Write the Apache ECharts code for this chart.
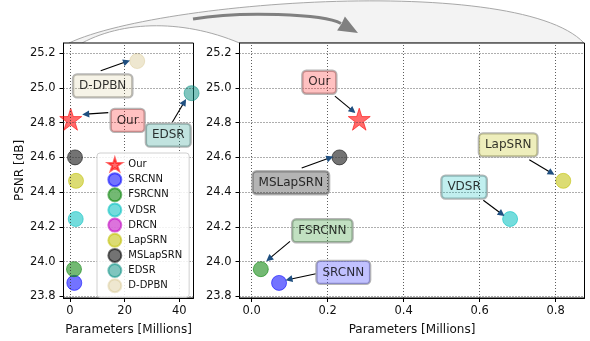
<!DOCTYPE html>
<html>
<head>
<meta charset="utf-8">
<script src="https://cdn.jsdelivr.net/npm/echarts@6/dist/echarts.min.js"></script>
<style>
  html, body { margin: 0; padding: 0; background: #fff; }
  #chart { width: 590px; height: 341px; }
</style>
</head>
<body>
<div id="chart"></div>
<script>
// models, in legend order
var models = ['Our', 'SRCNN', 'FSRCNN', 'VDSR', 'DRCN', 'LapSRN', 'MSLapSRN', 'EDSR', 'D-DPBN']
var psnr = [24.82, 23.877, 23.956, 24.245, null, 24.465, 24.60, 24.97, 25.155]
// parameters [millions] as placed in the full view (left) and the zoomed view (right)
var paramsFull = [0.26, 1.57, 1.46, 2.09, null, 2.2, 1.83, 44.5, 24.6]
var paramsZoom = [0.283, 0.072, 0.024, 0.680, null, 0.820, 0.231, null, null]

var yTicks = [23.8, 24.0, 24.2, 24.4, 24.6, 24.8, 25.0, 25.2]
var xTicksFull = [0, 20, 40]
var xTicksZoom = [0, 0.2, 0.4, 0.6, 0.8]

// annotation: name, text box centre, arrow start, arrow end (data coords)
var notesFull = [
  ['D-DPBN', [11.97, 25.012], [11.24, 25.099], [20.75, 25.152]],
  ['Our', [21.1, 24.813], [14.02, 24.858], [5.75, 24.849]],
  ['EDSR', [35.97, 24.728], [37.44, 24.802], [41.83, 24.919]]
]
var notesZoom = [
  ['Our', [0.178, 25.033], [0.219, 24.953], [0.266, 24.868]],
  ['MSLapSRN', [0.103, 24.454], [0.1316, 24.539], [0.206, 24.598]],
  ['LapSRN', [0.675, 24.672], [0.7305, 24.586], [0.789, 24.51]],
  ['VDSR', [0.559, 24.429], [0.6095, 24.353], [0.658, 24.274]],
  ['FSRCNN', [0.186, 24.177], [0.1008, 24.116], [0.0455, 24.015]],
  ['SRCNN', [0.241, 23.9375], [0.169, 23.93], [0.098, 23.897]]
]

var FONT = 'DejaVu Sans'
var STAR = 'path://M50,0 L61.2,34.5 L97.6,34.5 L68.2,55.9 L79.4,90.5 L50,69.1 L20.6,90.5 L31.8,55.9 L2.4,34.5 L38.8,34.5 Z'

var markerColor = {
  'Our': 'rgba(255,0,0,0.58)',
  'SRCNN': 'rgba(0,0,255,0.55)',
  'FSRCNN': 'rgba(0,128,0,0.55)',
  'VDSR': 'rgba(0,191,191,0.55)',
  'DRCN': 'rgba(191,0,191,0.55)',
  'LapSRN': 'rgba(191,191,0,0.55)',
  'MSLapSRN': 'rgba(0,0,0,0.55)',
  'EDSR': 'rgba(0,139,125,0.5)',
  'D-DPBN': 'rgba(205,185,120,0.35)'
}
var boxColor = {
  'Our': 'rgba(255,0,0,0.3)',
  'SRCNN': 'rgba(0,0,255,0.3)',
  'FSRCNN': 'rgba(0,128,0,0.3)',
  'VDSR': 'rgba(0,191,191,0.3)',
  'LapSRN': 'rgba(191,191,0,0.33)',
  'MSLapSRN': 'rgba(0,0,0,0.37)',
  'EDSR': 'rgba(0,139,125,0.3)',
  'D-DPBN': 'rgba(205,185,120,0.22)'
}

function cubic(p0, p1, p2, p3, n) {
  var pts = []
  for (var i = 0; i <= n; i++) {
    var t = i / n, u = 1 - t
    pts.push([
      u * u * u * p0[0] + 3 * u * u * t * p1[0] + 3 * u * t * t * p2[0] + t * t * t * p3[0],
      u * u * u * p0[1] + 3 * u * u * t * p1[1] + 3 * u * t * t * p2[1] + t * t * t * p3[1]
    ])
  }
  return pts
}

function xAxis(idx, min, max, ticks, fmt) {
  return {
    type: 'value', gridIndex: idx, min: min, max: max,
    name: 'Parameters [Millions]', nameLocation: 'middle', nameGap: 26,
    nameTextStyle: { fontFamily: FONT, fontSize: 12, color: '#111' },
    axisLine: { show: true, onZero: false, lineStyle: { color: '#000', width: 1 } },
    axisTick: { show: true, length: 4, customValues: ticks, lineStyle: { color: '#000' } },
    axisLabel: { customValues: ticks, formatter: fmt, margin: 7, fontFamily: FONT, fontSize: 11.5, color: '#111' },
    splitLine: { show: false }
  }
}

function yAxis(idx, name) {
  return {
    type: 'value', gridIndex: idx, min: 23.79, max: 25.259,
    name: name, nameLocation: 'middle', nameGap: 38,
    nameTextStyle: { fontFamily: FONT, fontSize: 12, color: '#111' },
    axisLine: { show: true, onZero: false, lineStyle: { color: '#000', width: 1 } },
    axisTick: { show: true, length: 4, customValues: yTicks, lineStyle: { color: '#000' } },
    axisLabel: { customValues: yTicks, formatter: function (v) { return v.toFixed(1) }, margin: 8, fontFamily: FONT, fontSize: 11.5, color: '#111' },
    splitLine: { show: false }
  }
}

// dotted grid lines drawn at the tick values
function gridLines(idx, xticks) {
  var data = xticks.map(function (v) { return { xAxis: v } })
    .concat(yTicks.map(function (v) { return { yAxis: v } }))
  return {
    type: 'scatter', xAxisIndex: idx, yAxisIndex: idx, z: 1, silent: true,
    symbolSize: 0, itemStyle: { opacity: 0 },
    data: [[xticks[0], yTicks[0]]],
    markLine: {
      silent: true, symbol: 'none', animation: false, label: { show: false },
      lineStyle: { color: '#333', width: 0.8, type: [1, 2] },
      emphasis: { disabled: true },
      data: data
    }
  }
}

function modelSeries(idx, xs) {
  return models.map(function (name, i) {
    var data = []
    if (xs[i] != null && psnr[i] != null) data.push([xs[i], psnr[i]])
    var isStar = name === 'Our'
    return {
      name: name, type: 'scatter', xAxisIndex: idx, yAxisIndex: idx, z: 3,
      clip: false,
      symbol: isStar ? STAR : 'circle',
      symbolSize: isStar ? 22 : 15,
      itemStyle: { color: markerColor[name], borderColor: markerColor[name], borderWidth: 1, opacity: 1 },
      data: data
    }
  })
}

function noteSeries(idx, notes) {
  var boxes = {
    type: 'scatter', xAxisIndex: idx, yAxisIndex: idx, z: 6, clip: false,
    symbolSize: 0, silent: true,
    data: notes.map(function (n) {
      return {
        name: n[0], value: n[1],
        label: {
          show: true, position: 'inside', formatter: n[0],
          fontFamily: FONT, fontSize: 12, color: '#000', lineHeight: 13,
          textBorderWidth: 0, textBorderColor: 'transparent',
          backgroundColor: boxColor[n[0]], borderColor: '#a5a5a5', borderWidth: 1.2,
          borderRadius: 4, padding: [5, 6, 5, 6]
        }
      }
    })
  }
  var lines = {
    type: 'lines', coordinateSystem: 'cartesian2d', xAxisIndex: idx, yAxisIndex: idx, z: 5,
    silent: true, symbol: 'none',
    lineStyle: { color: '#000', width: 1.1, opacity: 1 },
    data: notes.map(function (n) { return { coords: [n[2], n[3]] } })
  }
  var heads = {
    type: 'lines', coordinateSystem: 'cartesian2d', xAxisIndex: idx, yAxisIndex: idx, z: 5,
    silent: true, symbol: ['none', 'triangle'], symbolSize: [5, 7],
    lineStyle: { color: '#1f4f80', width: 0.5, opacity: 1 },
    data: notes.map(function (n) {
      var a = n[2], b = n[3]
      var f = 0.85
      return { coords: [[a[0] + f * (b[0] - a[0]), a[1] + f * (b[1] - a[1])], b] }
    })
  }
  return [lines, heads, boxes]
}

var shade = cubic([69, 43], [160, 0], [520, -25], [584, 43], 60)
  .concat(cubic([239.5, 43], [185, 20], [125, 20], [82, 43], 30))

var myChart = echarts.init(document.getElementById('chart'))

var option = {
  backgroundColor: '#fff',
  animation: false,
  textStyle: { fontFamily: FONT },
  grid: [
    { left: 63.5, top: 43, width: 130, height: 258, show: true, borderColor: '#000', borderWidth: 1, backgroundColor: '#fff' },
    { left: 239.5, top: 43, width: 345, height: 258, show: true, borderColor: '#000', borderWidth: 1, backgroundColor: '#fff' }
  ],
  xAxis: [
    xAxis(0, -2.38, 45.2, xTicksFull, function (v) { return String(v) }),
    xAxis(1, -0.0321, 0.8758, xTicksZoom, function (v) { return v.toFixed(1) })
  ],
  yAxis: [yAxis(0, 'PSNR [dB]'), yAxis(1, '')],
  legend: {
    data: models, orient: 'vertical', left: 97, top: 153,
    padding: [4, 7, 4, 10], itemWidth: 17, itemHeight: 13, itemGap: 0.15,
    backgroundColor: 'rgba(255,255,255,0.85)', borderColor: '#d0d0d0', borderWidth: 1, borderRadius: 3,
    textStyle: { fontFamily: FONT, fontSize: 10, lineHeight: 12, color: '#111' },
    selectedMode: false, z: 8
  },
  graphic: [
    {
      type: 'polygon', z: -5, silent: true,
      shape: { points: shade },
      style: { fill: '#f3f3f3', stroke: '#a8a8a8', lineWidth: 1 }
    },
    {
      type: 'bezierCurve', z: -4, silent: true,
      shape: { x1: 193, y1: 19, cpx1: 240, cpy1: 11, cpx2: 323.5, cpy2: 13.8, x2: 341, y2: 23.5 },
      style: { stroke: '#808080', lineWidth: 3, fill: null }
    },
    {
      type: 'polygon', z: -4, silent: true,
      shape: { points: [[358, 33], [344.9, 16.5], [341.5, 23.7], [337.1, 30.5]] },
      style: { fill: '#808080' }
    }
  ],
  series: [gridLines(0, xTicksFull), gridLines(1, xTicksZoom)]
    .concat(modelSeries(0, paramsFull))
    .concat(modelSeries(1, paramsZoom))
    .concat(noteSeries(0, notesFull))
    .concat(noteSeries(1, notesZoom))
}

myChart.setOption(option)
</script>
</body>
</html>
